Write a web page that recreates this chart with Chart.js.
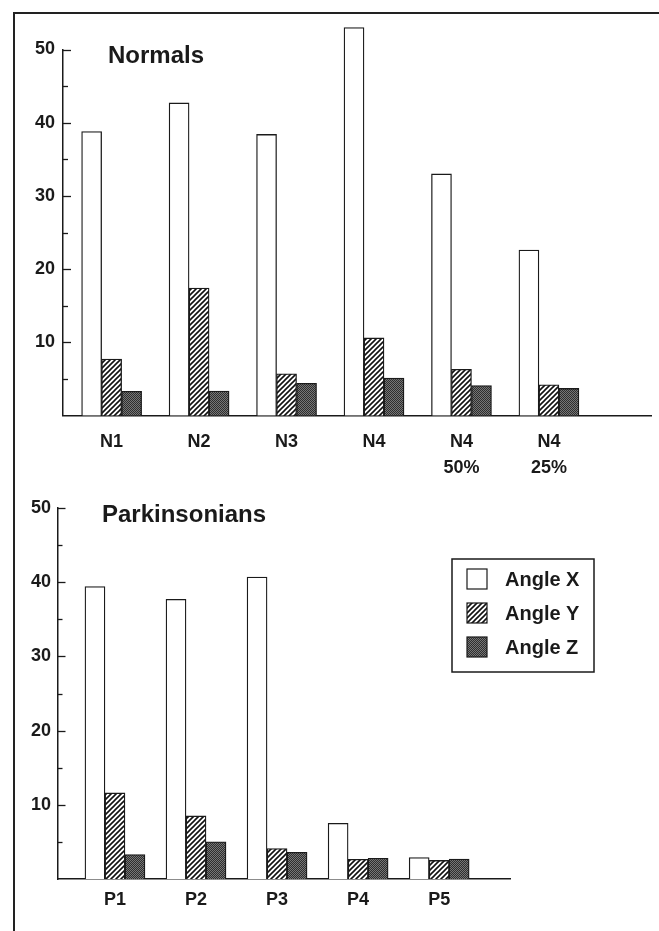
<!DOCTYPE html>
<html>
<head>
<meta charset="utf-8">
<script src="https://cdn.jsdelivr.net/npm/chart.js@4.4.0/dist/chart.umd.min.js"></script>
<style>
body { margin: 0; background: #fff; width: 659px; height: 931px; overflow: hidden; position: relative; }
.box { position: absolute; left: 0; width: 659px; }
#frame { position: absolute; left: 13px; top: 12px; width: 646px; height: 919px;
  border-top: 2px solid #222; border-left: 2px solid #222; pointer-events: none; }
</style>
</head>
<body>
<div class="box" style="top:0;height:475px"><canvas id="normals"></canvas></div>
<div class="box" style="top:475px;height:456px"><canvas id="parkinson"></canvas></div>
<div id="frame"></div>
<script>
// data
const seriesNames = ['Angle X', 'Angle Y', 'Angle Z'];
const normalCats = ['N1', 'N2', 'N3', 'N4', ['N4', '50%'], ['N4', '25%']];
const normalX = [38.8, 42.7, 38.4, 53.0, 33.0, 22.6];
const normalY = [7.7, 17.4, 5.7, 10.6, 6.3, 4.2];
const normalZ = [3.3, 3.35, 4.4, 5.1, 4.1, 3.7];
const parkCats = ['P1', 'P2', 'P3', 'P4', 'P5'];
const parkX = [39.4, 37.7, 40.7, 7.5, 2.9];
const parkY = [11.6, 8.5, 4.1, 2.65, 2.5];
const parkZ = [3.3, 5.0, 3.6, 2.8, 2.7];
const yTickLabels = [10, 20, 30, 40, 50];

const FONT = '"Liberation Sans", Arial, Helvetica, sans-serif';
const INK = '#1a1a1a';

// fill patterns: plain white, diagonal hatch, dark stipple
function hatchPattern() {
  const c = document.createElement('canvas');
  c.width = 5; c.height = 5;
  const g = c.getContext('2d');
  g.fillStyle = '#fff'; g.fillRect(0, 0, 5, 5);
  g.strokeStyle = '#111'; g.lineWidth = 1.6;
  g.beginPath();
  g.moveTo(-1, 6); g.lineTo(6, -1);
  g.moveTo(-1, 1); g.lineTo(1, -1);
  g.moveTo(4, 6); g.lineTo(6, 4);
  g.stroke();
  return g.createPattern(c, 'repeat');
}
function stipplePattern() {
  const c = document.createElement('canvas');
  c.width = 4; c.height = 4;
  const g = c.getContext('2d');
  g.fillStyle = '#767676'; g.fillRect(0, 0, 4, 4);
  g.fillStyle = '#2e2e2e';
  for (let y = 0; y < 4; y++) {
    for (let x = 0; x < 4; x++) {
      if ((x + y) % 2 === 0) g.fillRect(x, y, 1, 1);
    }
  }
  return g.createPattern(c, 'repeat');
}
const fills = ['#ffffff', hatchPattern(), stipplePattern()];

// ticks pointing into the plot, long at 10s, short at 5s
const inwardTicks = {
  id: 'inwardTicks',
  afterDraw(chart) {
    const y = chart.scales.y, ctx = chart.ctx, left = chart.chartArea.left;
    ctx.save();
    ctx.strokeStyle = INK; ctx.lineWidth = 1.3;
    y.ticks.forEach(t => {
      if (t.value === 0) return;
      const py = Math.round(y.getPixelForValue(t.value)) + 0.5;
      const len = t.value % 10 === 0 ? 8 : 5;
      ctx.beginPath(); ctx.moveTo(left, py); ctx.lineTo(left + len, py); ctx.stroke();
    });
    ctx.restore();
  }
};

// panel title inside the plot
const panelTitle = {
  id: 'panelTitle',
  afterDraw(chart, args, opts) {
    const ctx = chart.ctx;
    ctx.save();
    ctx.font = 'bold 24px ' + FONT;
    ctx.fillStyle = INK;
    ctx.textBaseline = 'alphabetic';
    ctx.fillText(opts.text, opts.x, opts.y);
    ctx.restore();
  }
};

// boxed legend, only on the lower panel
const boxLegend = {
  id: 'boxLegend',
  afterDraw(chart, args, opts) {
    if (!opts.show) return;
    const ctx = chart.ctx;
    ctx.save();
    ctx.strokeStyle = INK; ctx.lineWidth = 1.5;
    ctx.strokeRect(452, 84, 142, 113);
    ctx.font = 'bold 20px ' + FONT;
    ctx.textBaseline = 'middle';
    chart.data.datasets.forEach((ds, i) => {
      const top = 94 + i * 34;
      ctx.fillStyle = ds.backgroundColor;
      ctx.fillRect(467, top, 20, 20);
      ctx.lineWidth = 1.2;
      ctx.strokeRect(467, top, 20, 20);
      ctx.fillStyle = INK;
      ctx.fillText(ds.label, 505, top + 11);
    });
    ctx.restore();
  }
};

function makeChart(id, cats, xs, ys, zs, o) {
  const series = [xs, ys, zs];
  return new Chart(document.getElementById(id), {
    type: 'bar',
    data: {
      datasets: series.map((vals, k) => ({
        label: seriesNames[k],
        data: vals.map((v, i) => ({ x: i, y: v })),
        backgroundColor: fills[k],
        borderColor: INK,
        borderWidth: 1.3,
        barThickness: 20,
        clip: false
      }))
    },
    options: {
      responsive: true,
      maintainAspectRatio: false,
      animation: false,
      events: [],
      layout: { padding: { left: 0, top: o.padTop, right: o.padRight, bottom: 0 } },
      plugins: {
        legend: { display: false },
        tooltip: { enabled: false },
        panelTitle: { text: o.title, x: o.titleX, y: o.titleY },
        boxLegend: { show: o.legend }
      },
      scales: {
        x: {
          type: 'linear',
          offset: false,
          min: o.xmin,
          max: o.xmax,
          grid: { display: false, drawTicks: false, offset: false },
          border: { display: true, color: INK, width: 1.5 },
          afterBuildTicks: s => { s.ticks = cats.map((c, i) => ({ value: i })); },
          afterFit: s => { s.height = o.xHeight; },
          ticks: {
            autoSkip: false, maxRotation: 0, padding: o.xPad,
            color: INK, font: { family: FONT, size: 18, weight: 'bold', lineHeight: 1.45 },
            callback: v => cats[v]
          }
        },
        y: {
          min: 0,
          max: 50,
          grid: { display: false, drawTicks: false },
          border: { display: true, color: INK, width: 1.5 },
          afterFit: s => { s.width = o.yWidth; },
          ticks: {
            stepSize: 5, padding: o.yPad, color: INK,
            font: { family: FONT, size: 18, weight: 'bold' },
            callback: v => yTickLabels.includes(v) ? String(v) : ''
          }
        }
      }
    },
    plugins: [inwardTicks, panelTitle, boxLegend]
  });
}

makeChart('normals', normalCats, normalX, normalY, normalZ, {
  title: 'Normals', titleX: 108, titleY: 63, legend: false,
  padTop: 49.5, padRight: 8, xHeight: 59.5, yWidth: 63,
  xmin: -0.556, xmax: 6.167, xPad: 13, yPad: 8
});
makeChart('parkinson', parkCats, parkX, parkY, parkZ, {
  title: 'Parkinsonians', titleX: 102, titleY: 47, legend: true,
  padTop: 33, padRight: 149, xHeight: 52, yWidth: 57.5,
  xmin: -0.709, xmax: 4.874, xPad: 8, yPad: 6.5
});
</script>
</body>
</html>
